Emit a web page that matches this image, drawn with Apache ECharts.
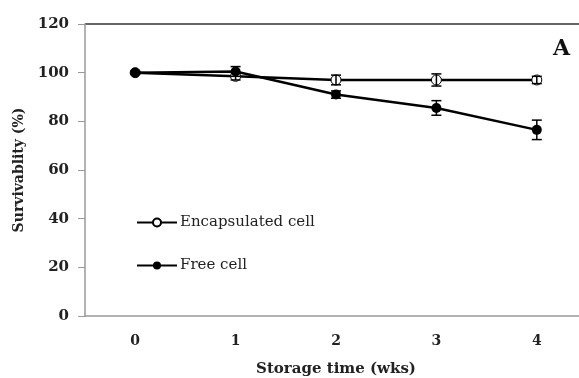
<!DOCTYPE html>
<html lang="en" style="height: 100%">
<head>
    <meta charset="utf-8">
    <script type="text/javascript" src="https://cdn.jsdelivr.net/npm/echarts@6/dist/echarts.min.js"></script>
</head>
<body style="height: 100%; margin: 0; background: #fff">
    <div id="chart" style="height: 378px; width: 579px"></div>
    <script type="text/javascript">
        // 数据
        var weeks = ['0', '1', '2', '3', '4'];
        var encapsulated = [100, 98.5, 97, 97, 97];
        var encapsulatedErr = [0.5, 1.5, 2, 2.5, 1.5];
        var free = [100, 100.5, 91, 85.5, 76.5];
        var freeErr = [0.5, 2, 1.5, 3, 4];
        var yTicks = [0, 20, 40, 60, 80, 100, 120];

        var serif = '"DejaVu Serif", "Liberation Serif", serif';

        function errorBars(values, errs) {
            return values.map(function (v, i) {
                return [i, v - errs[i], v + errs[i]];
            });
        }

        function renderError(params, api) {
            var lo = api.coord([api.value(0), api.value(1)]);
            var hi = api.coord([api.value(0), api.value(2)]);
            var w = 5;
            var style = { stroke: '#000', lineWidth: 1.5 };
            return {
                type: 'group',
                children: [
                    { type: 'line', shape: { x1: lo[0], y1: lo[1], x2: hi[0], y2: hi[1] }, style: style },
                    { type: 'line', shape: { x1: lo[0] - w, y1: lo[1], x2: lo[0] + w, y2: lo[1] }, style: style },
                    { type: 'line', shape: { x1: hi[0] - w, y1: hi[1], x2: hi[0] + w, y2: hi[1] }, style: style }
                ]
            };
        }

        var chart = echarts.init(document.getElementById('chart'));
        chart.setOption({
            animation: false,
            grid: { left: 85, top: 24, width: 502, height: 292, outerBoundsMode: 'none', containLabel: false },
            legend: {
                orient: 'vertical',
                left: 131,
                top: 210,
                itemGap: 28,
                itemWidth: 40,
                itemHeight: 10,
                textStyle: { fontFamily: serif, fontSize: 15, color: '#222', padding: [0, 0, 0, -2] },
                data: ['Encapsulated cell', 'Free cell']
            },
            graphic: [{
                type: 'text',
                left: 553,
                top: 38,
                style: { text: 'A', font: 'bold 22px ' + serif, fill: '#111' }
            }],
            xAxis: {
                type: 'category',
                data: weeks,
                boundaryGap: true,
                name: 'Storage time (wks)',
                nameLocation: 'middle',
                nameGap: 46,
                nameTextStyle: { fontFamily: serif, fontWeight: 'bold', fontSize: 15, color: '#222' },
                axisLine: { lineStyle: { color: '#999', width: 1.5 } },
                axisTick: { show: false },
                axisLabel: { fontFamily: serif, fontWeight: 'bold', fontSize: 14, color: '#222', margin: 18 }
            },
            yAxis: {
                type: 'value',
                min: 0,
                max: 120,
                interval: 20,
                name: 'Survivablity (%)',
                nameLocation: 'middle',
                nameGap: 58,
                nameTextStyle: { fontFamily: serif, fontWeight: 'bold', fontSize: 14, color: '#222' },
                axisLine: { show: true, lineStyle: { color: '#999', width: 1.5 } },
                axisTick: { show: true, length: 7, inside: false, lineStyle: { color: '#999' } },
                axisLabel: {
                    fontFamily: serif, fontWeight: 'bold', fontSize: 15, color: '#222', margin: 16,
                    formatter: function (v) { return yTicks.indexOf(v) >= 0 ? v : ''; }
                },
                splitLine: {
                    show: true,
                    lineStyle: { color: ['transparent', 'transparent', 'transparent', 'transparent', 'transparent', 'transparent', '#333'], width: 1.5 }
                }
            },
            series: [{
                name: 'Encapsulated cell',
                type: 'line',
                data: encapsulated,
                symbol: 'circle',
                symbolSize: 10,
                lineStyle: { color: '#000', width: 2.5 },
                itemStyle: { color: '#fff', borderColor: '#000', borderWidth: 1 },
                z: 3
            }, {
                name: 'Free cell',
                type: 'line',
                data: free,
                symbol: 'circle',
                symbolSize: 10,
                lineStyle: { color: '#000', width: 2.5 },
                itemStyle: { color: '#000' },
                z: 4
            }, {
                type: 'custom',
                renderItem: renderError,
                data: errorBars(encapsulated, encapsulatedErr),
                z: 5
            }, {
                type: 'custom',
                renderItem: renderError,
                data: errorBars(free, freeErr),
                z: 5
            }]
        });
    </script>
</body>
</html>
